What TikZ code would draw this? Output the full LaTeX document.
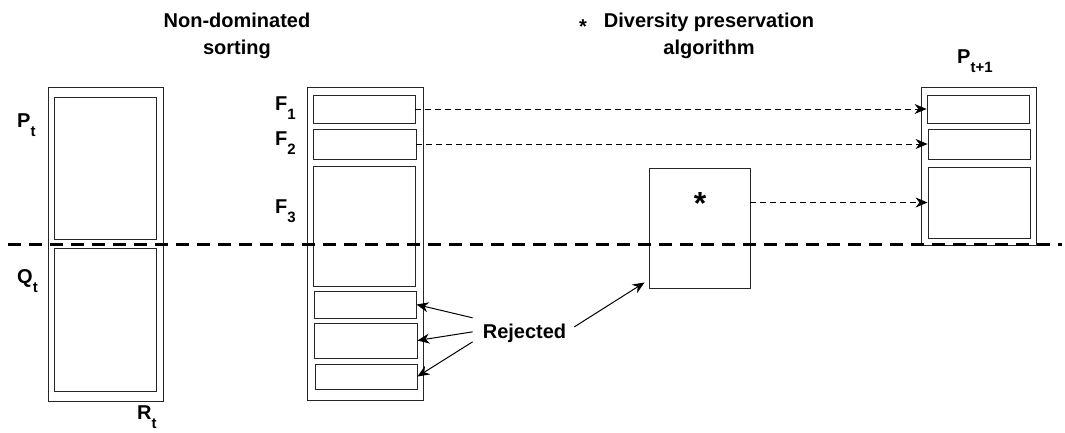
\documentclass[tikz,border=0pt]{standalone}
\usepackage{fontspec}
\setsansfont{Liberation Sans}
\usetikzlibrary{arrows.meta,calc}
\tikzset{
	box/.style={draw=black!85, line width=0.9pt, inner sep=0pt},
	lbl/.style={font=\sffamily\bfseries\fontsize{20}{27}\selectfont, inner sep=0pt},
	cutline/.style={line width=3pt, dash pattern=on 13pt off 8pt},
	carry/.style={-{Stealth[length=12pt,width=10pt]}, line width=0.7pt, dash pattern=on 6pt off 4pt},
	reject/.style={-{Stealth[length=12pt,width=10pt]}, line width=1pt},
}
\newcommand{\sbs}[1]{\raisebox{-9pt}{\fontsize{15}{15}\selectfont #1}}

\begin{document}
\begin{tikzpicture}[x=1pt,y=-1pt]
\useasboundingbox (0,0) rectangle (1065,432);
% titles
\node[lbl, align=center] (ndsort) at (237,36.3) {Non-dominated\\sorting};
\node[lbl, align=center] (divers) at (709,36.3) {Diversity preservation\\algorithm};
\node[lbl, anchor=base] (dstar) at (583,33) {*};
% R_t = P_t + Q_t
\node[box, minimum width=115pt, minimum height=314pt] (R) at (105.5,244.5) {};
\node[box, minimum width=102pt, minimum height=142pt] (P) at (105,168) {};
\node[box, minimum width=102pt, minimum height=143pt] (Q) at (105,319.5) {};
\node[lbl, anchor=base west] (Plbl) at (17,127) {P\sbs{t}};
\node[lbl, anchor=base west] (Qlbl) at (17,283) {Q\sbs{t}};
\node[lbl, anchor=base west] (Rlbl) at (137,419) {R\sbs{t}};
% fronts
\node[box, minimum width=116pt, minimum height=313pt] (F) at (365,243.5) {};
\node[box, minimum width=102pt, minimum height=28pt] (F1) at (364,109) {};
\node[box, minimum width=103pt, minimum height=30pt] (F2) at (364.5,144) {};
\node[box, minimum width=102pt, minimum height=120pt] (F3) at (364,226) {};
\node[box, minimum width=102pt, minimum height=27pt] (J1) at (365,304.5) {};
\node[box, minimum width=103pt, minimum height=35pt] (J2) at (365.5,340.5) {};
\node[box, minimum width=102pt, minimum height=25pt] (J3) at (366,376.5) {};
\node[lbl, anchor=base west] (F1lbl) at (275,110) {F\sbs{1}};
\node[lbl, anchor=base west] (F2lbl) at (275,145) {F\sbs{2}};
\node[lbl, anchor=base west] (F3lbl) at (275,213) {F\sbs{3}};
% crowding box
\node[box, minimum width=101pt, minimum height=120pt] (D) at (699.5,228) {};
\node[lbl, font=\sffamily\bfseries\fontsize{32}{32}\selectfont] (bstar) at (700,203) {*};
% P_{t+1}
\node[box, minimum width=115pt, minimum height=158pt] (N) at (978.5,166) {};
\node[box, minimum width=102pt, minimum height=28pt] (N1) at (978,109) {};
\node[box, minimum width=102pt, minimum height=30pt] (N2) at (979,144) {};
\node[box, minimum width=102pt, minimum height=71pt] (N3) at (979,202.5) {};
\node[lbl, anchor=base west] (Nlbl) at (957,63) {P\sbs{t+1}};
% cut line
\coordinate (cutL) at (8,244);
\coordinate (cutR) at (1062,244);
\draw[cutline] (cutL) -- (cutR);
% carried over
\draw[carry] (F1.east) -- (N1.west);
\draw[carry] (F2.east) -- (N2.west);
\draw[carry] (D.east |- N3.west) -- (N3.west);
% rejected
\node[lbl, anchor=base] (rej) at (524.5,338) {Rejected};
\draw[reject] ([shift={(-10,-15)}]rej.west) -- (J1.east);
\draw[reject] ([shift={(-10,-1)}]rej.west) -- (J2.east);
\draw[reject] ([shift={(-10,9)}]rej.west) -- (J3.east);
\draw[reject] ([shift={(8,-6)}]rej.east) -- ([shift={(-4,-6)}]D.south west);
\end{tikzpicture}
\end{document}
